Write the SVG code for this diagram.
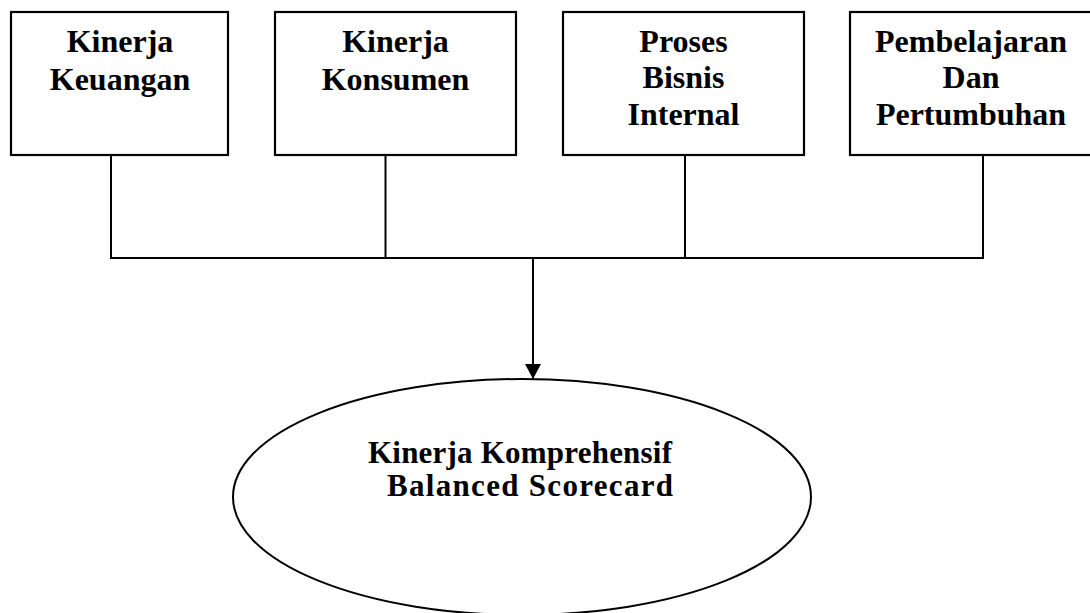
<svg xmlns="http://www.w3.org/2000/svg" width="1090" height="613" viewBox="0 0 1090 613">
<style>
.box{fill:#fff;stroke:#000;stroke-width:2.2}
.t{font-family:"Liberation Serif","Times New Roman",serif;font-weight:bold;font-size:32px;fill:#000;text-anchor:middle}
.e{font-size:31px}
.c{fill:none;stroke:#000;stroke-width:2}
</style>
<defs>
<marker id="ah" markerWidth="16" markerHeight="16" refX="15" refY="8" orient="auto" markerUnits="userSpaceOnUse">
<path d="M0,0 L15,8 L0,16 Z" fill="#000"/>
</marker>
</defs>
<rect width="1090" height="613" fill="#fff"/>
<g id="connectors">
<path class="c" d="M111,155 V258 M385.5,155 V258 M685,155 V258 M983,155 V258 M110,258 H984"/>
<path class="c" d="M533,258 V379" marker-end="url(#ah)"/>
</g>
<g id="n1">
<rect class="box" x="11" y="12" width="217" height="143"/>
<text class="t" x="120" y="52">Kinerja</text>
<text class="t" x="120" y="90">Keuangan</text>
</g>
<g id="n2">
<rect class="box" x="275" y="12" width="241" height="143"/>
<text class="t" x="395.5" y="52">Kinerja</text>
<text class="t" x="395.5" y="90">Konsumen</text>
</g>
<g id="n3">
<rect class="box" x="563" y="12" width="241" height="143"/>
<text class="t" x="683.5" y="52">Proses</text>
<text class="t" x="683.5" y="88">Bisnis</text>
<text class="t" x="683.5" y="125">Internal</text>
</g>
<g id="n4">
<rect class="box" x="850" y="12" width="242" height="143"/>
<text class="t" x="971" y="52">Pembelajaran</text>
<text class="t" x="971" y="88">Dan</text>
<text class="t" x="971" y="125">Pertumbuhan</text>
</g>
<g id="n5">
<ellipse cx="522" cy="497" rx="289" ry="118" fill="none" stroke="#000" stroke-width="2"/>
<text class="t e" x="520" y="463" textLength="304" lengthAdjust="spacing">Kinerja Komprehensif</text>
<text class="t e" x="530" y="496" textLength="286" lengthAdjust="spacing">Balanced Scorecard</text>
</g>
</svg>
